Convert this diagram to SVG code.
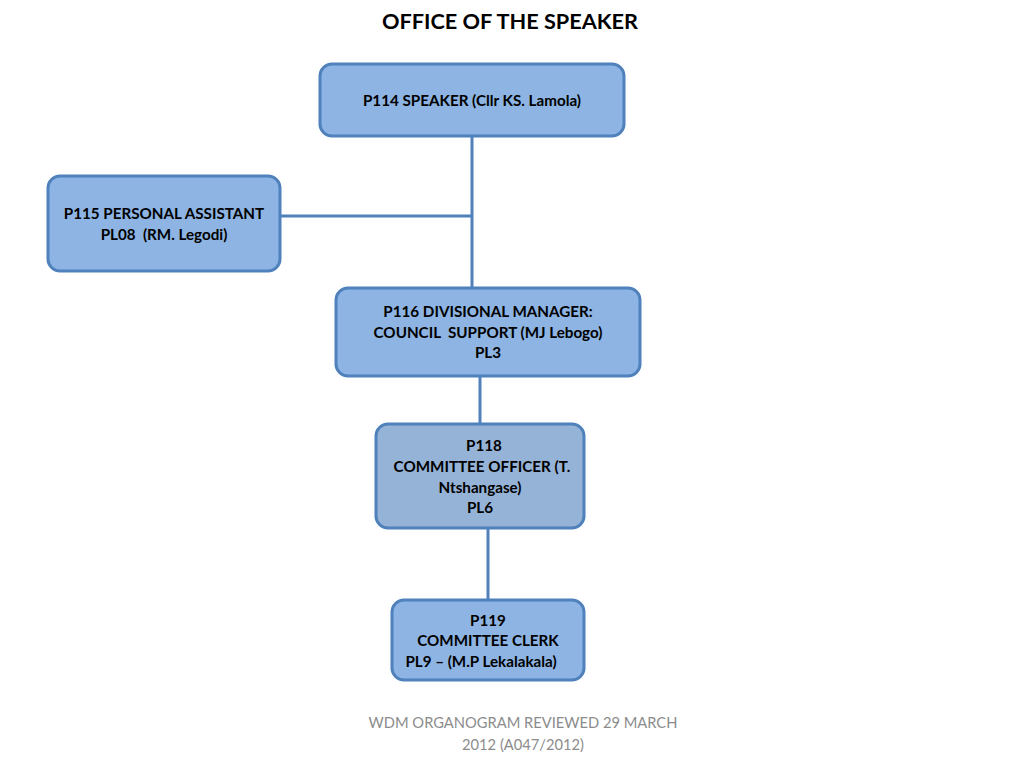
<svg xmlns="http://www.w3.org/2000/svg" width="1024" height="768" viewBox="0 0 1024 768">
<style>
.box{fill:#8db4e2;stroke:#4f81bd;stroke-width:3}
.box2{fill:#95b3d7;stroke:#4f81bd;stroke-width:3}
.t{font-family:Lato,"Open Sans","Liberation Sans",sans-serif;font-weight:bold;font-size:15.2px;fill:#000;text-anchor:middle;dominant-baseline:central;white-space:pre}
.title{font-family:Lato,"Open Sans","Liberation Sans",sans-serif;font-weight:bold;font-size:21.7px;fill:#000;text-anchor:middle;dominant-baseline:central}
.foot{font-family:Lato,"Open Sans","Liberation Sans",sans-serif;font-size:14.7px;fill:#8c8c8c;text-anchor:middle;dominant-baseline:central}
.c{stroke:#4f81bd;stroke-width:3;fill:none}
</style>
<rect width="1024" height="768" fill="#fff"/>
<text class="title" x="510" y="21">OFFICE OF THE SPEAKER</text>
<g id="connectors">
<line class="c" x1="472" y1="136" x2="472" y2="288"/>
<line class="c" x1="280" y1="216" x2="472" y2="216"/>
<line class="c" x1="480" y1="376" x2="480" y2="424"/>
<line class="c" x1="488" y1="528" x2="488" y2="600"/>
</g>
<g id="speaker">
<rect class="box" x="320" y="64" width="304" height="72" rx="12"/>
<text class="t" x="472" y="100">P114 SPEAKER (Cllr KS. Lamola)</text>
</g>
<g id="assistant">
<rect class="box" x="48" y="176" width="232" height="95" rx="12"/>
<text class="t" x="164" y="213">P115 PERSONAL ASSISTANT</text>
<text class="t" x="164" y="234" xml:space="preserve">PL08  (RM. Legodi)</text>
</g>
<g id="divmanager">
<rect class="box" x="336" y="288" width="304" height="88" rx="12"/>
<text class="t" x="488" y="311">P116 DIVISIONAL MANAGER:</text>
<text class="t" x="488" y="332" xml:space="preserve">COUNCIL  SUPPORT (MJ Lebogo)</text>
<text class="t" x="488" y="352">PL3</text>
</g>
<g id="officer">
<rect class="box2" x="376" y="424" width="208" height="104" rx="12"/>
<text class="t" x="484" y="445">P118</text>
<text class="t" x="482" y="466">COMMITTEE OFFICER (T.</text>
<text class="t" x="480" y="487">Ntshangase)</text>
<text class="t" x="480" y="507">PL6</text>
</g>
<g id="clerk">
<rect class="box" x="392" y="600" width="192" height="80" rx="12"/>
<text class="t" x="488" y="620">P119</text>
<text class="t" x="488" y="640">COMMITTEE CLERK</text>
<text class="t" x="481" y="661">PL9 – (M.P Lekalakala)</text>
</g>
<text class="foot" x="523" y="722">WDM ORGANOGRAM REVIEWED 29 MARCH</text>
<text class="foot" x="523" y="744">2012 (A047/2012)</text>
</svg>
